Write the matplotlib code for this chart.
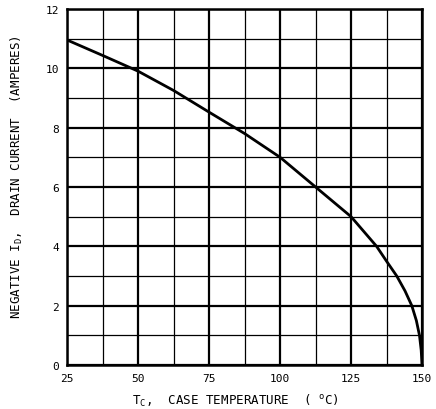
import matplotlib
matplotlib.use('Agg')
import matplotlib.pyplot as plt
import numpy as np

# values
temp_c = [25, 37.5, 50, 62.5, 75, 87.5, 100, 112.5, 125, 134.0, 137.5, 141.1, 144.0, 146.4, 148.0, 149.1, 149.7, 150]
drain_a = [10.95, 10.43, 9.9, 9.25, 8.52, 7.8, 7.0, 6.0, 5.0, 4.0, 3.5, 3.0, 2.5, 2.0, 1.5, 1.0, 0.5, 0]

x_ticks = [25, 50, 75, 100, 125, 150]
y_ticks = [0, 2, 4, 6, 8, 10, 12]

plt.rcParams['font.family'] = ['DejaVu Sans Mono', 'DejaVu Sans']

fig = plt.figure(figsize=(4.36, 4.10), dpi=100, facecolor='w')
ax = fig.add_axes([0.154, 0.107, 0.814, 0.869])

ax.set_xlim(25, 150)
ax.set_ylim(0, 12)
ax.set_xticks(x_ticks)
ax.set_yticks(y_ticks)
ax.set_xticks(np.arange(25, 151, 12.5), minor=True)
ax.set_yticks(np.arange(0, 13, 1), minor=True)
ax.grid(which='major', color='k', linewidth=1.6)
ax.grid(which='minor', color='k', linewidth=0.9)
ax.tick_params(which='both', length=0, labelsize=8, pad=6)
for s in ax.spines.values():
    s.set_linewidth(1.8)

ax.plot(temp_c, drain_a, color='k', linewidth=2.0, solid_joinstyle='round')

ax.set_xlabel(r'T$_\mathregular{C}$,  CASE TEMPERATURE  ( $^\mathregular{o}$C)', fontsize=9)
ax.set_ylabel(r'NEGATIVE I$_\mathregular{D}$,  DRAIN CURRENT  (AMPERES)', fontsize=9)
ax.xaxis.set_label_coords(0.475, -0.075)
ax.yaxis.set_label_coords(-0.12, 0.53)

plt.savefig('out.png', dpi=100)
plt.close()
